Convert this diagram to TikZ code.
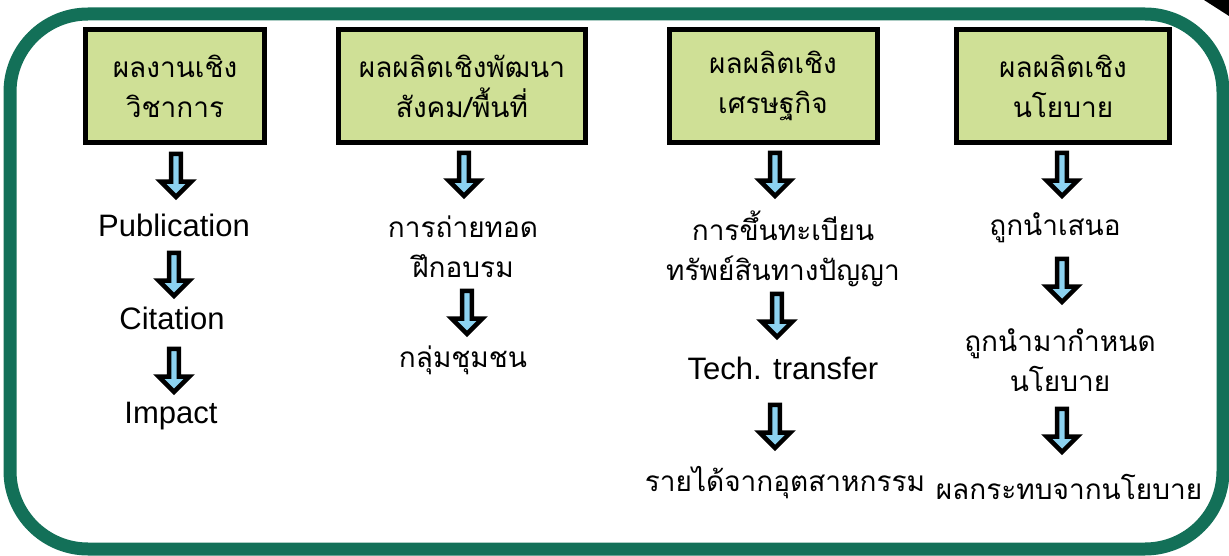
\documentclass[tikz,border=0pt]{standalone}
\usepackage{fontspec}
\setmainfont{Liberation Sans}
\newfontfamily\thai[Script=Thai]{Loma}
\usetikzlibrary{shapes.arrows}
\definecolor{framegreen}{RGB}{19,112,88}
\definecolor{boxfill}{RGB}{207,224,150}
\definecolor{arrowblue}{RGB}{140,210,240}
\begin{document}
\begin{tikzpicture}[x=1pt,y=-1pt,
  hbox/.style={draw=black, line width=5pt, fill=boxfill, minimum height=113pt, inner sep=0pt, align=center, font=\thai\fontsize{28}{40}\selectfont},
  thtext/.style={align=center, inner sep=0pt, font=\thai\fontsize{28}{40}\selectfont},
  entext/.style={inner sep=0pt, font=\fontsize{31}{36}\selectfont},
  barrow/.style={single arrow, draw=black, line width=4.5pt, fill=arrowblue, shape border rotate=270, minimum height=43pt, inner sep=2.6pt, single arrow head extend=10.5pt}]
\useasboundingbox (0,0) rectangle (1229,556);
\draw[line width=13pt, framegreen, rounded corners=78pt] (10,14) rectangle (1223,549);
\fill[black] (1204,0) -- (1229,0) -- (1229,16) -- cycle;
% column 1
\node[hbox, minimum width=179pt] (b1) at (175,86) {ผลงานเชิง\\วิชาการ};
\node[barrow] (a11) at (176,173) {};
\node[entext] (t11) at (174,225) {Publication};
\node[barrow] (a12) at (174,272) {};
\node[entext] (t12) at (172,318) {Citation};
\node[barrow] (a13) at (174,368) {};
\node[entext] (t13) at (171,416) {Impact};
% column 2
\node[hbox, minimum width=247pt] (b2) at (462,86) {ผลผลิตเชิงพัฒนา\\สังคม/พื้นที่};
\node[barrow] (a21) at (464,172) {};
\node[thtext] (t21) at (463,247) {การถ่ายทอด\\ฝึกอบรม};
\node[barrow] (a22) at (467,310) {};
\node[thtext] (t22) at (463,360) {กลุ่มชุมชน};
% column 3
\node[hbox, minimum width=208pt] (b3) at (773,86) {ผลผลิตเชิง\\เศรษฐกิจ};
\node[barrow] (a31) at (775,172) {};
\node[thtext] (t31) at (783,249) {การขึ้นทะเบียน\\ทรัพย์สินทางปัญญา};
\node[barrow] (a32) at (777,313) {};
\node[entext] (t32) at (783,368) {Tech. transfer};
\node[barrow] (a33) at (775,424) {};
\node[thtext] (t33) at (785,483) {รายได้จากอุตสาหกรรม};
% column 4
\node[hbox, minimum width=213pt] (b4) at (1063,86) {ผลผลิตเชิง\\นโยบาย};
\node[barrow] (a41) at (1062,172) {};
\node[thtext] (t41) at (1055,228) {ถูกนำเสนอ};
\node[barrow] (a42) at (1062,278) {};
\node[thtext] (t42) at (1060,360) {ถูกนำมากำหนด\\นโยบาย};
\node[barrow] (a43) at (1062,428) {};
\node[thtext] (t43) at (1069,487) {ผลกระทบจากนโยบาย};
\end{tikzpicture}
\end{document}
